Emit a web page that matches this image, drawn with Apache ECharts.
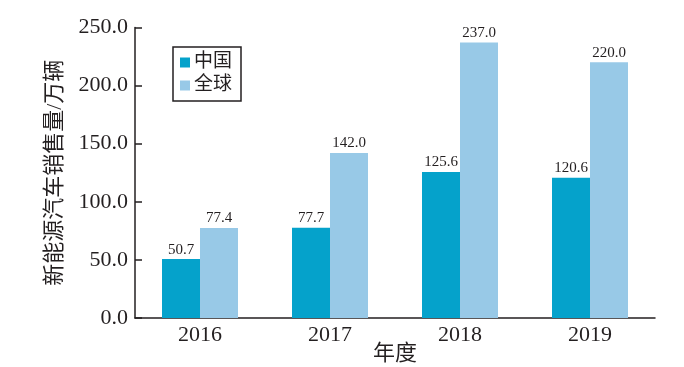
<!DOCTYPE html>
<html><head><meta charset="utf-8">
<script src="https://cdn.jsdelivr.net/npm/echarts@6/dist/echarts.min.js"></script>
<style>html,body{margin:0;padding:0;background:#fff}#c{width:684px;height:367px}</style>
</head><body><div id="c"></div>
<script>
const categories = ['2016', '2017', '2018', '2019'];
const chinaValues = [50.7, 77.7, 125.6, 120.6];
const globalValues = [77.4, 142.0, 237.0, 220.0];
const seriesNames = ['中国', '全球'];
const yTicks = [0, 50, 100, 150, 200, 250];

const serif = '"Liberation Serif", "Times New Roman", "Noto Sans CJK SC", serif';
const ink = '#231f20';
const chart = echarts.init(document.getElementById('c'));
chart.setOption({
  animation: false,
  backgroundColor: '#fff',
  grid: { left: 135, right: 29, top: 27.5, bottom: 49, containLabel: false, outerBoundsMode: 'none' },
  legend: {
    data: seriesNames,
    orient: 'vertical',
    left: 173, top: 47,
    padding: [6, 9, 6, 7],
    borderColor: ink, borderWidth: 1.5,
    itemWidth: 10, itemHeight: 10, itemGap: 4,
    icon: 'rect',
    textStyle: { fontFamily: serif, fontSize: 19, color: ink, padding: [0, 0, 0, -1] }
  },
  xAxis: {
    type: 'category', data: categories,
    name: '年度', nameLocation: 'middle', nameGap: 25, nameMoveOverlap: false,
    nameTextStyle: { fontFamily: serif, fontSize: 22, color: ink },
    axisLine: { lineStyle: { color: ink, width: 1.5 } },
    axisTick: { inside: true, length: 7, lineStyle: { color: ink, width: 1.5 } },
    axisLabel: { fontFamily: serif, fontSize: 22, color: ink, margin: 6 }
  },
  yAxis: {
    type: 'value', min: yTicks[0], max: yTicks[yTicks.length - 1], interval: 50,
    name: '新能源汽车销售量/万辆', nameLocation: 'middle', nameGap: 69, nameRotate: 90, nameMoveOverlap: false,
    nameTextStyle: { fontFamily: serif, fontSize: 22, color: ink },
    axisLine: { show: true, lineStyle: { color: ink, width: 1.5 } },
    axisTick: { show: true, inside: true, length: 7, lineStyle: { color: ink, width: 1.5 } },
    splitLine: { show: false },
    axisLabel: { fontFamily: serif, fontSize: 22, color: ink, margin: 7, formatter: v => v.toFixed(1) }
  },
  series: [
    { name: seriesNames[0], type: 'bar', data: chinaValues, barWidth: 38, barGap: '0%',
      itemStyle: { color: '#05a2cb' },
      label: { show: true, position: 'top', distance: 2, fontFamily: serif, fontSize: 15, color: ink, formatter: p => p.value.toFixed(1) } },
    { name: seriesNames[1], type: 'bar', data: globalValues, barWidth: 38, barGap: '0%',
      itemStyle: { color: '#98c9e7' },
      label: { show: true, position: 'top', distance: 2, fontFamily: serif, fontSize: 15, color: ink, formatter: p => p.value.toFixed(1) } }
  ]
});
</script></body></html>
